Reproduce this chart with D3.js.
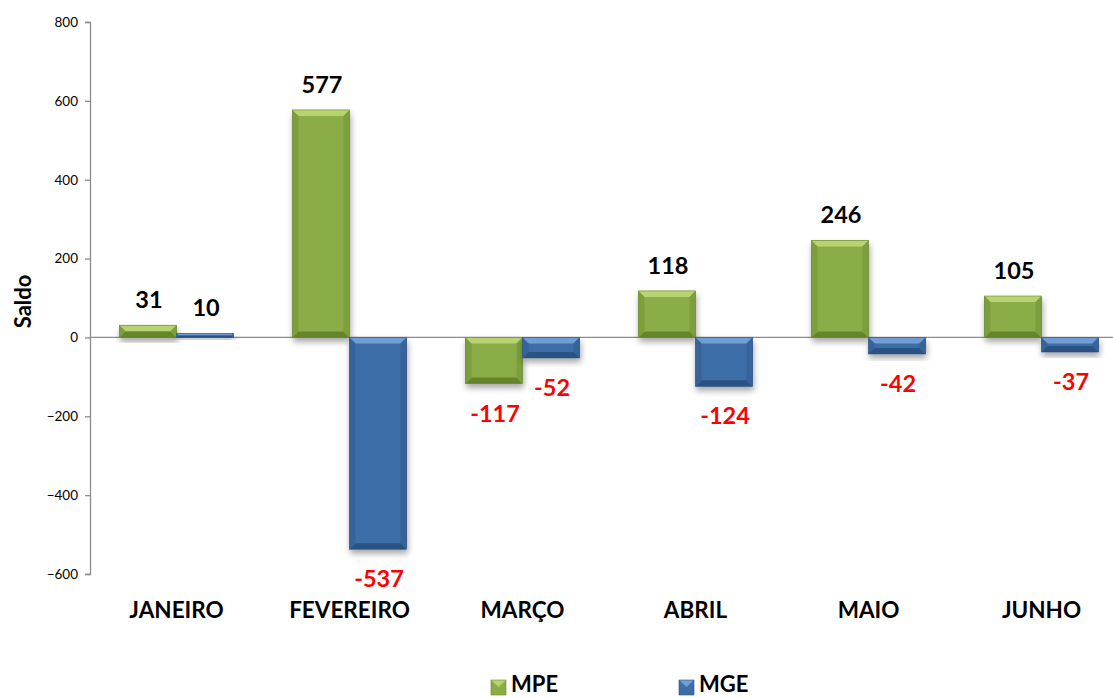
<!DOCTYPE html>
<html><head><meta charset="utf-8">
<script src="https://d3js.org/d3.v7.min.js"></script>
<style>body{margin:0;background:#fff}svg{display:block;font-family:Lato,"Open Sans",sans-serif}</style>
</head><body>
<svg id="c" width="1113" height="698"></svg>
<script>
const categories = ["JANEIRO","FEVEREIRO","MARÇO","ABRIL","MAIO","JUNHO"];
const seriesNames = ["MPE","MGE"];
const mpe = [31,577,-117,118,246,105];
const mge = [10,-537,-52,-124,-42,-37];
const yTicks = [-600,-400,-200,0,200,400,600,800];
const colors = {MPE:{base:"#8aad46",light:"#b7d46f",dark:"#66852c",side:"#7c9e3c"},
                MGE:{base:"#3e6ea8",light:"#709dd3",dark:"#2b5283",side:"#36639a"}};

const svg = d3.select("#c");
const defs = svg.append("defs");
const f = defs.append("filter").attr("id","sh").attr("x","-20%").attr("y","-20%").attr("width","140%").attr("height","160%");
f.append("feGaussianBlur").attr("in","SourceAlpha").attr("stdDeviation",3);
f.append("feOffset").attr("dx",1).attr("dy",4).attr("result","o");
f.append("feComponentTransfer").append("feFuncA").attr("type","linear").attr("slope",0.35);
const fm = f.append("feMerge"); fm.append("feMergeNode"); fm.append("feMergeNode").attr("in","SourceGraphic");

const x0 = d3.scaleBand().domain(categories).range([90,1128]).paddingInner(0.34).paddingOuter(0.17);
const x1 = d3.scaleBand().domain(seriesNames).range([0,x0.bandwidth()]);
const y = d3.scaleLinear().domain([-600,800]).range([574,22]);

// axis
const ax = svg.append("g").attr("transform","translate(90,0)")
  .call(d3.axisLeft(y).tickValues(yTicks).tickSize(5).tickPadding(7).tickFormat(d3.format("d")));
ax.selectAll("path,line").attr("stroke","#8c8c8c").attr("stroke-width",1.3);
ax.selectAll("text").attr("font-size",13.5).attr("fill","#000").attr("font-family","Lato,sans-serif");

svg.append("line").attr("x1",90).attr("x2",1113).attr("y1",y(0)).attr("y2",y(0)).attr("stroke","#8c8c8c").attr("stroke-width",1.3);

svg.append("text").attr("transform",`translate(31,${y(0)-36}) rotate(-90)`).attr("text-anchor","middle")
  .attr("font-weight","bold").attr("font-size",22).text("Saldo");

const data = [];
categories.forEach((c,i)=>{ data.push({c,s:"MPE",v:mpe[i]}); data.push({c,s:"MGE",v:mge[i]}); });

const bw = x1.bandwidth();
const bars = svg.append("g").selectAll("g").data(data).join("g").attr("filter","url(#sh)");
bars.each(function(d){
  const g = d3.select(this);
  const xl = x0(d.c)+x1(d.s), xr = xl+bw;
  const yt = y(Math.max(0,d.v)), yb = y(Math.min(0,d.v));
  const h = yb-yt;
  const col = colors[d.s];
  const b = Math.min(6, h/2, bw/2);
  g.append("rect").attr("x",xl).attr("y",yt).attr("width",bw).attr("height",h).attr("fill",col.base);
  g.append("path").attr("d",`M${xl},${yt}L${xr},${yt}L${xr-b},${yt+b}L${xl+b},${yt+b}Z`).attr("fill",col.light);
  g.append("path").attr("d",`M${xl},${yb}L${xr},${yb}L${xr-b},${yb-b}L${xl+b},${yb-b}Z`).attr("fill",col.dark);
  g.append("path").attr("d",`M${xl},${yt}L${xl+b},${yt+b}L${xl+b},${yb-b}L${xl},${yb}Z`).attr("fill",col.side);
  g.append("path").attr("d",`M${xr},${yt}L${xr-b},${yt+b}L${xr-b},${yb-b}L${xr},${yb}Z`).attr("fill",col.side);
  g.append("rect").attr("x",xl).attr("y",yt).attr("width",bw).attr("height",h).attr("fill","none").attr("stroke",col.dark).attr("stroke-width",0.6);
});

svg.append("g").selectAll("text").data(data).join("text")
  .attr("x",d=>x0(d.c)+x1(d.s)+bw/2 + 1)
  .attr("y",d=>d.v>=0 ? y(d.v)-17 : y(d.v)+38)
  .attr("text-anchor","middle").attr("font-weight","bold").attr("font-size",23.5)
  .attr("fill",d=>d.v>=0?"#000":"#ff0000").text(d=>d.v);

svg.append("g").selectAll("text").data(categories).join("text")
  .attr("x",d=>x0(d)+x0.bandwidth()/2).attr("y",618)
  .attr("text-anchor","middle").attr("font-weight","bold").attr("font-size",22.5).text(d=>d);

// legend
const lx = {MPE:491, MGE:679};
const lg = svg.append("g").selectAll("g").data(seriesNames).join("g");
lg.each(function(s){
  const g = d3.select(this), c = colors[s], x=lx[s], yy=680, w=15, b=5;
  g.append("rect").attr("x",x).attr("y",yy).attr("width",w).attr("height",w).attr("fill",c.base);
  g.append("path").attr("d",`M${x},${yy}L${x+w},${yy}L${x+w/2},${yy+b+2}Z`).attr("fill",c.light);
  g.append("rect").attr("x",x).attr("y",yy).attr("width",w).attr("height",w).attr("fill","none").attr("stroke",c.dark).attr("stroke-width",0.6);
  g.append("text").attr("x",x+20).attr("y",692).attr("font-weight","bold").attr("font-size",22).text(s);
});
</script>
</body></html>
